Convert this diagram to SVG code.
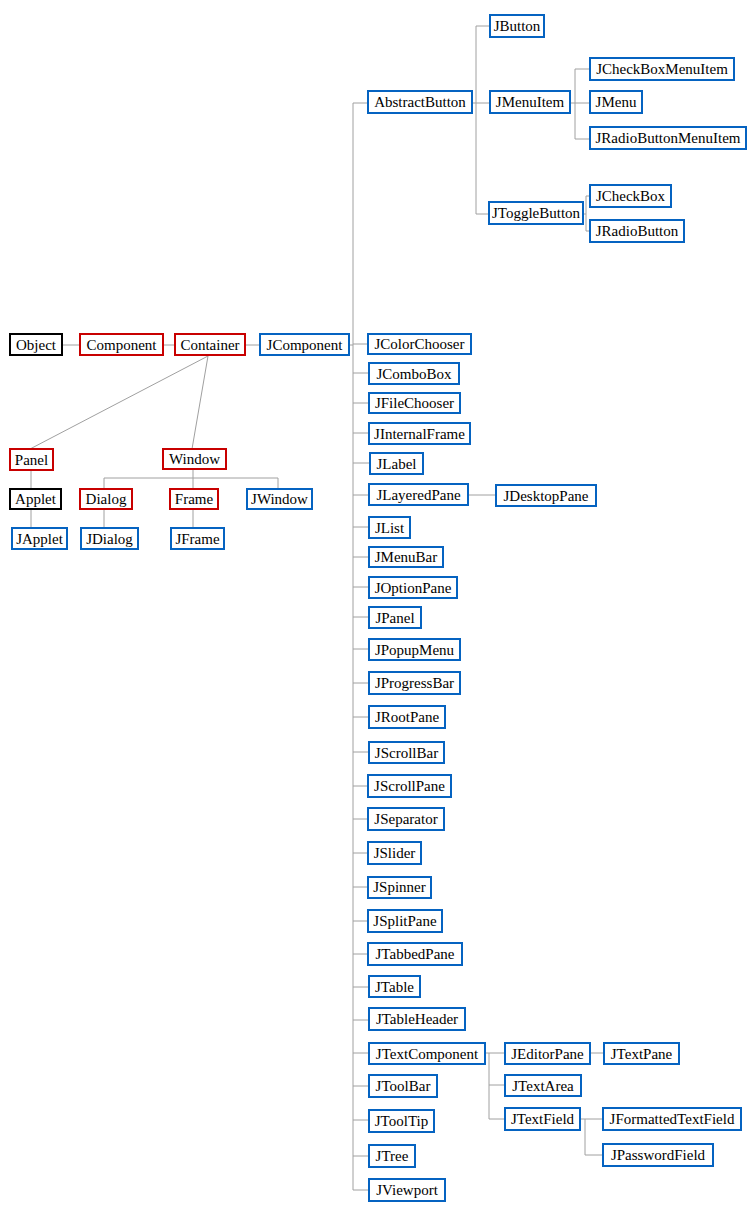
<svg xmlns="http://www.w3.org/2000/svg" width="756" height="1215" viewBox="0 0 756 1215">
<style>
rect{fill:#fff;stroke-width:2}
.b rect{stroke:#0563c1}
.r rect{stroke:#c80000}
.k rect{stroke:#000}
text{font-family:"Liberation Serif","Times New Roman",serif;font-size:15px;fill:#000;text-anchor:middle}
#connectors path{fill:none;stroke:#a0a0a0;stroke-width:1}
</style>
<rect x="0" y="0" width="756" height="1215" style="fill:#fff;stroke:none"/>
<g id="connectors">
<path d="M353,103V1190"/>
<path d="M353,103H368 M472,103H476 M476,26V214 M476,26H490 M476,103H490 M476,214H489"/>
<path d="M570,103H575 M575,69V139 M575,69H590 M575,103H590 M575,139H590"/>
<path d="M583,214H586 M586,196V231 M586,196H590 M586,231H590"/>
<path d="M62,345H80 M163,345H175 M245,345H260 M349,345H353"/>
<path d="M208,356L30,449 M208,356L192,449"/>
<path d="M31,470V489 M31,509V528"/>
<path d="M193,469V489 M104,478H278 M104,478V489 M278,478V489 M104,509V528 M193,509V528"/>
<path d="M353,344H368 M353,373H369 M353,403H369 M353,433H369 M353,463H370 M353,495H369 M468,495H496 M353,527H369 M353,557H369 M353,587H369 M353,617H369 M353,649H369 M353,683H369 M353,717H369 M353,752H369 M353,786H368 M353,819H368 M353,853H368 M353,887H368 M353,921H368 M353,954H368 M353,987H369 M353,1020H369 M353,1053H369 M353,1086H369 M353,1120H369 M353,1156H369 M353,1190H369"/>
<path d="M485,1053H505 M489,1053V1119 M489,1085H505 M489,1119H505 M590,1053H604 M580,1119H603 M585,1119V1155H603"/>
</g>
<g id="JButton" class="b"><rect x="490" y="15" width="54" height="22"/><text x="517" y="31">JButton</text></g>
<g id="AbstractButton" class="b"><rect x="368" y="91" width="104" height="22"/><text x="420" y="107">AbstractButton</text></g>
<g id="JMenuItem" class="b"><rect x="490" y="91" width="80" height="22"/><text x="530" y="107">JMenuItem</text></g>
<g id="JCheckBoxMenuItem" class="b"><rect x="590" y="58" width="144" height="22"/><text x="662" y="74">JCheckBoxMenuItem</text></g>
<g id="JMenu" class="b"><rect x="590" y="91" width="52" height="22"/><text x="616" y="107">JMenu</text></g>
<g id="JRadioButtonMenuItem" class="b"><rect x="590" y="127" width="156" height="22"/><text x="668" y="143">JRadioButtonMenuItem</text></g>
<g id="JToggleButton" class="b"><rect x="489" y="202" width="94" height="22"/><text x="536" y="218">JToggleButton</text></g>
<g id="JCheckBox" class="b"><rect x="590" y="185" width="81" height="22"/><text x="630.5" y="201">JCheckBox</text></g>
<g id="JRadioButton" class="b"><rect x="590" y="220" width="94" height="22"/><text x="637" y="236">JRadioButton</text></g>
<g id="Object" class="k"><rect x="10" y="334" width="52" height="21"/><text x="36" y="350">Object</text></g>
<g id="Component" class="r"><rect x="80" y="334" width="83" height="21"/><text x="121.5" y="350">Component</text></g>
<g id="Container" class="r"><rect x="175" y="334" width="70" height="21"/><text x="210" y="350">Container</text></g>
<g id="JComponent" class="b"><rect x="260" y="334" width="89" height="21"/><text x="304.5" y="350">JComponent</text></g>
<g id="Panel" class="r"><rect x="10" y="449" width="43" height="21"/><text x="31.5" y="465">Panel</text></g>
<g id="Window" class="r"><rect x="163" y="449" width="63" height="20"/><text x="194.5" y="464">Window</text></g>
<g id="Applet" class="k"><rect x="10" y="489" width="51" height="20"/><text x="35.5" y="504">Applet</text></g>
<g id="JApplet" class="b"><rect x="12" y="528" width="55" height="21"/><text x="39.5" y="544">JApplet</text></g>
<g id="Dialog" class="r"><rect x="80" y="489" width="52" height="20"/><text x="106" y="504">Dialog</text></g>
<g id="Frame" class="r"><rect x="170" y="489" width="48" height="20"/><text x="194" y="504">Frame</text></g>
<g id="JWindow" class="b"><rect x="247" y="489" width="65" height="20"/><text x="279.5" y="504">JWindow</text></g>
<g id="JDialog" class="b"><rect x="81" y="528" width="57" height="21"/><text x="109.5" y="544">JDialog</text></g>
<g id="JFrame" class="b"><rect x="171" y="528" width="53" height="21"/><text x="197.5" y="544">JFrame</text></g>
<g id="JColorChooser" class="b"><rect x="368" y="334" width="103" height="20"/><text x="419.5" y="349">JColorChooser</text></g>
<g id="JComboBox" class="b"><rect x="369" y="363" width="90" height="21"/><text x="414" y="379">JComboBox</text></g>
<g id="JFileChooser" class="b"><rect x="369" y="393" width="91" height="20"/><text x="414.5" y="408">JFileChooser</text></g>
<g id="JInternalFrame" class="b"><rect x="369" y="423" width="101" height="21"/><text x="419.5" y="439">JInternalFrame</text></g>
<g id="JLabel" class="b"><rect x="370" y="453" width="53" height="21"/><text x="396.5" y="469">JLabel</text></g>
<g id="JLayeredPane" class="b"><rect x="369" y="484" width="99" height="21"/><text x="418.5" y="500">JLayeredPane</text></g>
<g id="JDesktopPane" class="b"><rect x="496" y="485" width="100" height="21"/><text x="546" y="501">JDesktopPane</text></g>
<g id="JList" class="b"><rect x="369" y="517" width="41" height="21"/><text x="389.5" y="533">JList</text></g>
<g id="JMenuBar" class="b"><rect x="369" y="547" width="74" height="20"/><text x="406" y="562">JMenuBar</text></g>
<g id="JOptionPane" class="b"><rect x="369" y="577" width="88" height="21"/><text x="413" y="593">JOptionPane</text></g>
<g id="JPanel" class="b"><rect x="369" y="607" width="52" height="21"/><text x="395" y="623">JPanel</text></g>
<g id="JPopupMenu" class="b"><rect x="369" y="639" width="91" height="21"/><text x="414.5" y="655">JPopupMenu</text></g>
<g id="JProgressBar" class="b"><rect x="369" y="672" width="91" height="22"/><text x="414.5" y="688">JProgressBar</text></g>
<g id="JRootPane" class="b"><rect x="369" y="706" width="76" height="22"/><text x="407" y="722">JRootPane</text></g>
<g id="JScrollBar" class="b"><rect x="369" y="742" width="75" height="21"/><text x="406.5" y="758">JScrollBar</text></g>
<g id="JScrollPane" class="b"><rect x="368" y="775" width="83" height="22"/><text x="409.5" y="791">JScrollPane</text></g>
<g id="JSeparator" class="b"><rect x="368" y="808" width="76" height="22"/><text x="406" y="824">JSeparator</text></g>
<g id="JSlider" class="b"><rect x="368" y="842" width="53" height="22"/><text x="394.5" y="858">JSlider</text></g>
<g id="JSpinner" class="b"><rect x="368" y="877" width="63" height="21"/><text x="399.5" y="892">JSpinner</text></g>
<g id="JSplitPane" class="b"><rect x="368" y="910" width="74" height="22"/><text x="405" y="926">JSplitPane</text></g>
<g id="JTabbedPane" class="b"><rect x="368" y="943" width="94" height="22"/><text x="415" y="959">JTabbedPane</text></g>
<g id="JTable" class="b"><rect x="369" y="976" width="51" height="21"/><text x="394.5" y="992">JTable</text></g>
<g id="JTableHeader" class="b"><rect x="369" y="1008" width="96" height="22"/><text x="417" y="1024">JTableHeader</text></g>
<g id="JTextComponent" class="b"><rect x="369" y="1043" width="116" height="21"/><text x="427" y="1059">JTextComponent</text></g>
<g id="JEditorPane" class="b"><rect x="505" y="1043" width="85" height="21"/><text x="547.5" y="1059">JEditorPane</text></g>
<g id="JTextPane" class="b"><rect x="604" y="1043" width="75" height="21"/><text x="641.5" y="1059">JTextPane</text></g>
<g id="JTextArea" class="b"><rect x="505" y="1075" width="76" height="21"/><text x="543" y="1091">JTextArea</text></g>
<g id="JTextField" class="b"><rect x="505" y="1108" width="75" height="22"/><text x="542.5" y="1124">JTextField</text></g>
<g id="JFormattedTextField" class="b"><rect x="603" y="1108" width="138" height="22"/><text x="672" y="1124">JFormattedTextField</text></g>
<g id="JPasswordField" class="b"><rect x="603" y="1144" width="110" height="22"/><text x="658" y="1160">JPasswordField</text></g>
<g id="JToolBar" class="b"><rect x="369" y="1075" width="68" height="22"/><text x="403" y="1091">JToolBar</text></g>
<g id="JToolTip" class="b"><rect x="369" y="1110" width="65" height="22"/><text x="401.5" y="1126">JToolTip</text></g>
<g id="JTree" class="b"><rect x="369" y="1145" width="46" height="22"/><text x="392" y="1161">JTree</text></g>
<g id="JViewport" class="b"><rect x="369" y="1179" width="76" height="22"/><text x="407" y="1195">JViewport</text></g>
</svg>
